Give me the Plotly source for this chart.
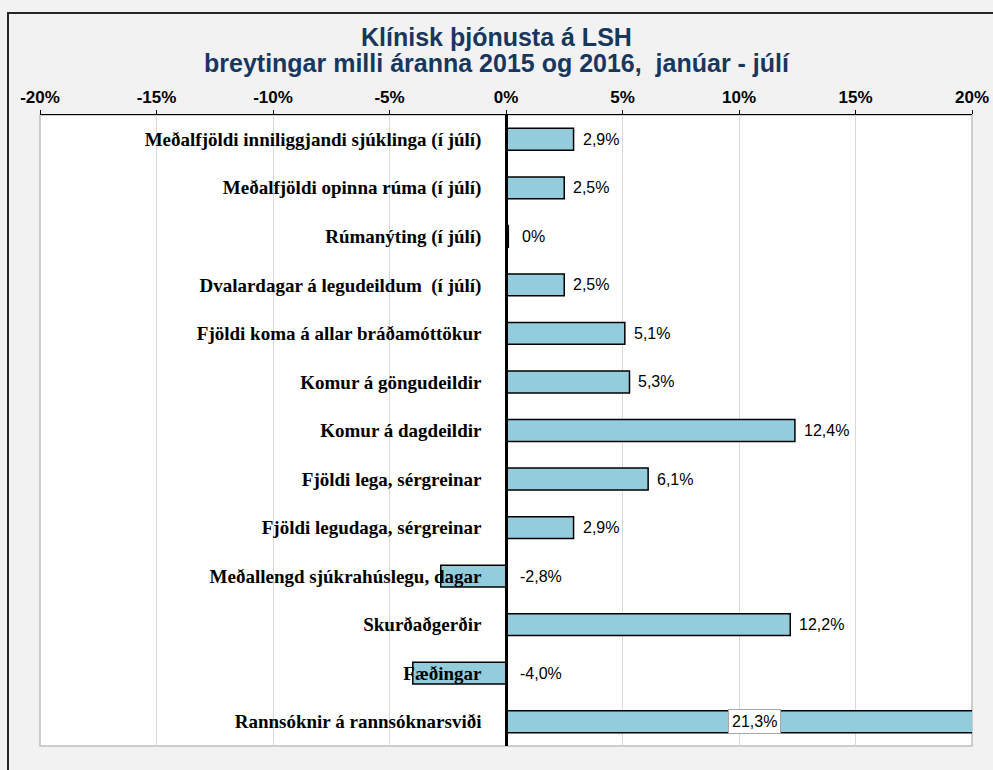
import plotly.graph_objects as go

categories = [
    "Meðalfjöldi inniliggjandi sjúklinga (í júlí)",
    "Meðalfjöldi opinna rúma (í júlí)",
    "Rúmanýting (í júlí)",
    "Dvalardagar á legudeildum  (í júlí)",
    "Fjöldi koma á allar bráðamóttökur",
    "Komur á göngudeildir",
    "Komur á dagdeildir",
    "Fjöldi lega, sérgreinar",
    "Fjöldi legudaga, sérgreinar",
    "Meðallengd sjúkrahúslegu, dagar",
    "Skurðaðgerðir",
    "Fæðingar",
    "Rannsóknir á rannsóknarsviði",
]
values = [2.9, 2.5, 0.1, 2.5, 5.1, 5.3, 12.4, 6.1, 2.9, -2.8, 12.2, -4.0, 21.3]
value_labels = ["2,9%", "2,5%", "0%", "2,5%", "5,1%", "5,3%", "12,4%", "6,1%",
                "2,9%", "-2,8%", "12,2%", "-4,0%", "21,3%"]
tick_vals = [-20, -15, -10, -5, 0, 5, 10, 15, 20]
tick_text = ["-20%", "-15%", "-10%", "-5%", "0%", "5%", "10%", "15%", "20%"]
title_lines = ["Klínisk þjónusta á LSH",
               "breytingar milli áranna 2015 og 2016,  janúar - júlí"]
x_min, x_max = -20, 20

W, H = 993, 770
L, R, T, B = 40, 21, 115, 24
pw, ph = W - L - R, H - T - B


def px_to_paper_x(px):
    return (px - L) / pw


def px_to_paper_y(py):
    return 1 - (py - T) / ph


fig = go.Figure()
fig.add_trace(go.Bar(
    x=values, y=categories, orientation="h",
    marker=dict(color="#93CDDD", line=dict(color="#000000", width=1.5)),
    hoverinfo="skip",
))

val_font = dict(family="Liberation Sans, Arial", size=16, color="#000000")
annotations = []
for cat, v, lab in zip(categories, values, value_labels):
    if v > x_max:
        annotations.append(dict(
            x=v / 2, y=cat, xref="x", yref="y", text=lab, showarrow=False,
            xanchor="center", yanchor="middle", font=val_font,
            bgcolor="#FFFFFF", bordercolor="#A6A6A6", borderwidth=1, borderpad=3,
        ))
    else:
        annotations.append(dict(
            x=max(v, 0), y=cat, xref="x", yref="y", text=lab, showarrow=False,
            xanchor="left", yanchor="middle", xshift=12 if v <= 0.1 else 7,
            font=val_font,
        ))

# title lines
for i, line in enumerate(title_lines):
    annotations.append(dict(
        x=px_to_paper_x(W / 2), y=px_to_paper_y([37, 63][i]),
        xref="paper", yref="paper", text=line, showarrow=False,
        xanchor="center", yanchor="middle",
        font=dict(family="Liberation Sans, Arial", size=25, color="#17375E", weight="bold"),
    ))

fig.update_layout(
    width=W, height=H,
    margin=dict(l=L, r=R, t=T, b=B, autoexpand=False),
    paper_bgcolor="#F2F2F2",
    plot_bgcolor="#FFFFFF",
    showlegend=False,
    bargap=0.55,
    xaxis=dict(
        range=[x_min, x_max], side="top",
        tickvals=tick_vals, ticktext=tick_text,
        tickfont=dict(family="Liberation Sans, Arial", size=17, color="#000000", weight="bold"),
        showgrid=True, gridcolor="#D9D9D9", gridwidth=1,
        zeroline=False,
        showline=True, linecolor="#000000", linewidth=1,
        ticks="outside", ticklen=4, tickcolor="#000000",
        automargin=False, fixedrange=True,
    ),
    yaxis=dict(
        autorange="reversed",
        anchor="free", position=0.5,
        showline=True, linecolor="#000000", linewidth=2.5,
        showgrid=False, zeroline=False,
        ticks="", ticklabelstandoff=20,
        tickfont=dict(family="Liberation Serif, Times New Roman", size=19, color="#000000", weight="bold"),
        automargin=False, fixedrange=True,
    ),
    annotations=annotations,
    shapes=[
        dict(type="rect", xref="paper", yref="paper", x0=0, x1=1, y0=0, y1=1,
             line=dict(color="#BFBFBF", width=1.5), layer="below"),
        dict(type="rect", xref="paper", yref="paper",
             x0=px_to_paper_x(8), x1=px_to_paper_x(W + 30),
             y0=px_to_paper_y(H + 30), y1=px_to_paper_y(13),
             line=dict(color="#262626", width=2)),
    ],
)

fig.write_html(
    "out.html",
    config={"displayModeBar": False},
    post_script="document.body.style.margin='0';document.body.style.overflow='hidden';",
)
